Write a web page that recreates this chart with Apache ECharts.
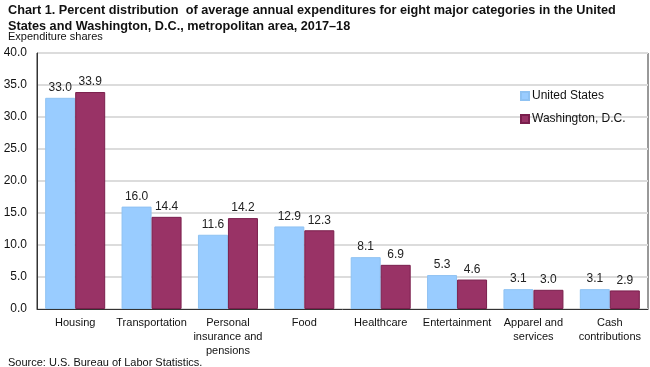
<!DOCTYPE html>
<html><head><meta charset="utf-8">
<script src="https://cdn.jsdelivr.net/npm/echarts@6/dist/echarts.min.js"></script>
<style>html,body{margin:0;padding:0;background:#fff}#c{width:650px;height:367px}</style>
</head><body><div id="c"></div>
<script>
const categories = ["Housing","Transportation","Personal\ninsurance and\npensions","Food","Healthcare","Entertainment","Apparel and\nservices","Cash\ncontributions"];
const usValues = [33.0,16.0,11.6,12.9,8.1,5.3,3.1,3.1];
const dcValues = [33.9,14.4,14.2,12.3,6.9,4.6,3.0,2.9];
const yTicks = [0,5,10,15,20,25,30,35,40];
const seriesNames = ["United States","Washington, D.C."];

const chart = echarts.init(document.getElementById('c'));
const F = 'Arial, "Liberation Sans", sans-serif';
chart.setOption({
  animation:false,
  textStyle:{fontFamily:F},
  title:[
    {text:'Chart 1. Percent distribution  of average annual expenditures for eight major categories in the United\nStates and Washington, D.C., metropolitan area, 2017–18',left:3,top:-3,
     textStyle:{fontSize:12.7,fontWeight:'bold',color:'#111',lineHeight:16,fontFamily:F}},
    {text:'Expenditure shares',left:3,top:26,textStyle:{fontSize:11,fontWeight:'normal',color:'#111',fontFamily:F}},
    {text:'Source: U.S. Bureau of Labor Statistics.',left:3,top:352,textStyle:{fontSize:11,fontWeight:'normal',color:'#111',fontFamily:F}}
  ],
  legend:{orient:'vertical',left:515,top:85,itemWidth:8,itemHeight:8,itemGap:11,icon:'rect',
    data:seriesNames,textStyle:{fontSize:12,color:'#111',fontFamily:F,padding:[0,0,0,-2]}},
  grid:{left:37,top:53,right:2,bottom:58,show:true,borderColor:'#333',borderWidth:1,containLabel:false},
  xAxis:{type:'category',data:categories,
    axisLine:{lineStyle:{color:'#333'}},axisTick:{show:false},
    axisLabel:{fontSize:11,color:'#111',interval:0,lineHeight:14,margin:7,fontFamily:F}},
  yAxis:{type:'value',min:yTicks[0],max:yTicks[yTicks.length-1],interval:5,
    axisLine:{show:true,lineStyle:{color:'#333'}},axisTick:{show:false},
    axisLabel:{fontSize:12,color:'#111',margin:10,formatter:v=>v.toFixed(1),fontFamily:F},
    splitLine:{lineStyle:{color:'#dcdcdc',width:2}}},
  series:[
    {name:seriesNames[0],type:'bar',data:usValues,barWidth:30,barGap:'0%',
     itemStyle:{color:'#99ccff',borderColor:'#8fc2f2',borderWidth:1},
     label:{show:true,position:'top',distance:4,fontSize:12,color:'#222',formatter:p=>p.value.toFixed(1),fontFamily:F}},
    {name:seriesNames[1],type:'bar',data:dcValues,barWidth:30,
     itemStyle:{color:'#993366',borderColor:'#7a1f4d',borderWidth:1},
     label:{show:true,position:'top',distance:4,fontSize:12,color:'#222',formatter:p=>p.value.toFixed(1),fontFamily:F}}
  ]
});
</script></body></html>
